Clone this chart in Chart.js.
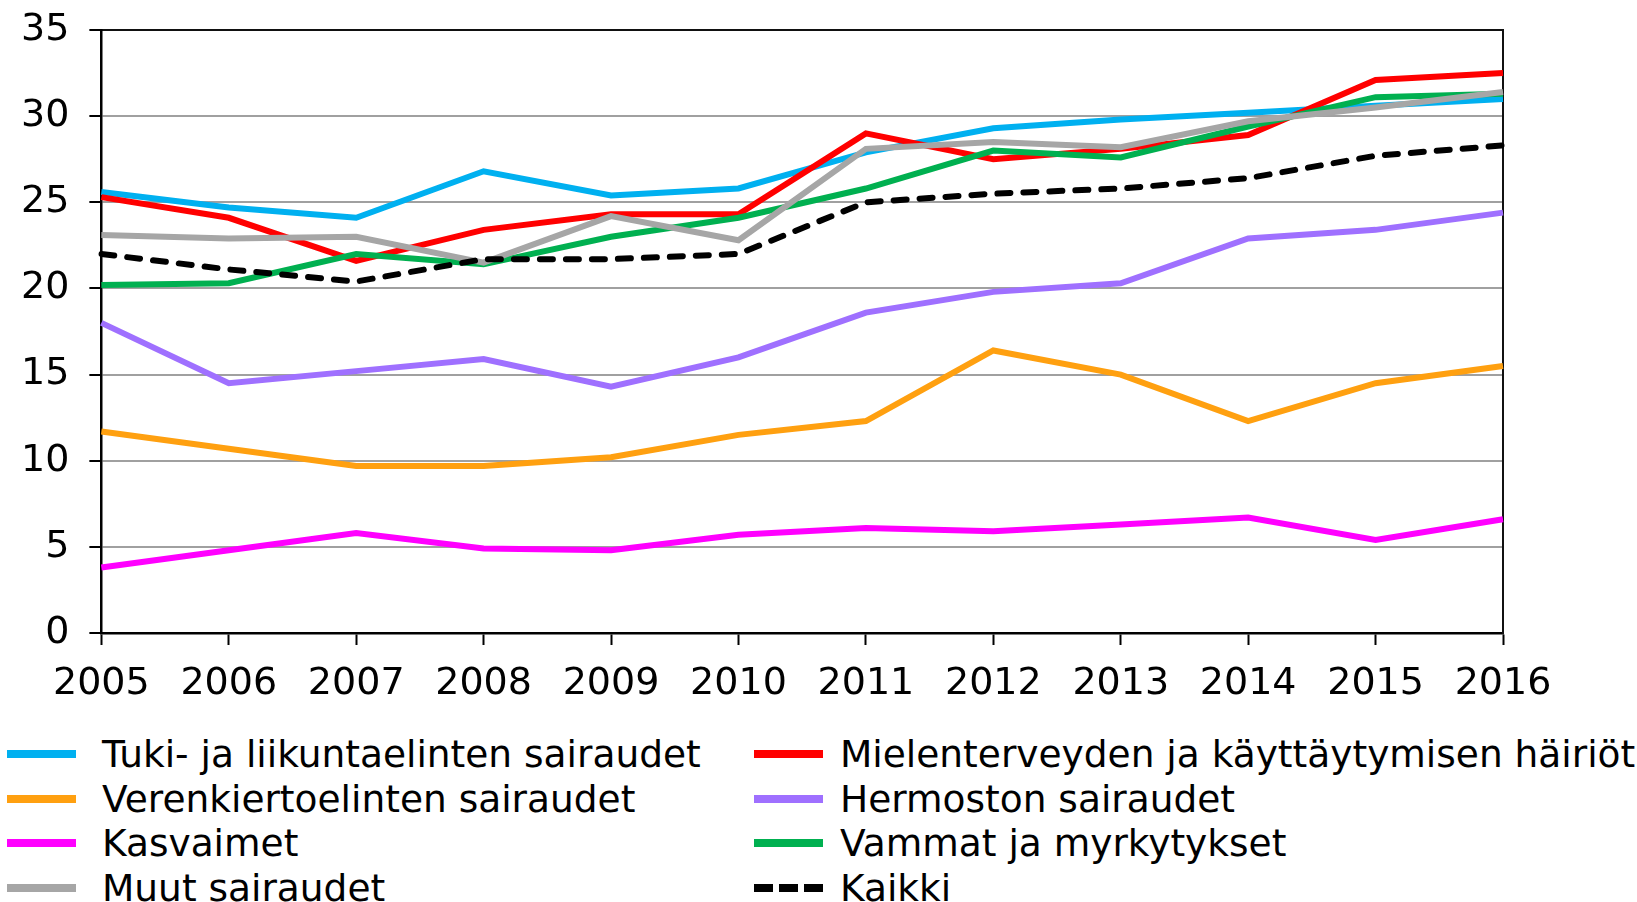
<!DOCTYPE html>
<html lang="fi">
<head>
<meta charset="UTF-8">
<title>Sairauspoissaolot</title>
<script src="https://cdn.jsdelivr.net/npm/chart.js@4.4.0/dist/chart.umd.min.js"></script>
<style>
  html, body { margin: 0; padding: 0; background: #fff; }
  #wrap { position: relative; width: 1637px; height: 902px; overflow: hidden; }
  #box { position: absolute; left: 0; top: 0; width: 1637px; height: 725px; }
  #legend { position: absolute; left: 0; top: 732px; width: 1637px;
    display: grid; grid-template-columns: 747px 890px; grid-auto-rows: 44.5px;
    font-family: "DejaVu Sans", Verdana, sans-serif; font-size: 37.5px; color: #000; }
  .item { display: flex; align-items: center; white-space: nowrap; }
  .item .sw { width: 69px; height: 8px; margin-left: 7px; margin-right: 26px; flex: none; }
  .item:nth-child(even) .sw { margin-left: 7px; margin-right: 17px; }
</style>
</head>
<body>
<div id="wrap">
  <div id="box"><canvas id="myChart"></canvas></div>
  <div id="legend"></div>
</div>
<script>
  // vuodet
  var years = ["2005","2006","2007","2008","2009","2010","2011","2012","2013","2014","2015","2016"];

  var tuki      = [25.6, 24.7, 24.1, 26.8, 25.4, 25.8, 27.9, 29.3, 29.8, 30.2, 30.6, 31.0];
  var mielen    = [25.3, 24.1, 21.6, 23.4, 24.3, 24.3, 29.0, 27.5, 28.1, 28.9, 32.1, 32.5];
  var veren     = [11.7, 10.7, 9.7, 9.7, 10.2, 11.5, 12.3, 16.4, 15.0, 12.3, 14.5, 15.5];
  var hermosto  = [18.0, 14.5, 15.2, 15.9, 14.3, 16.0, 18.6, 19.8, 20.3, 22.9, 23.4, 24.4];
  var kasvaimet = [3.8, 4.8, 5.8, 4.9, 4.8, 5.7, 6.1, 5.9, 6.3, 6.7, 5.4, 6.6];
  var vammat    = [20.2, 20.3, 22.0, 21.4, 23.0, 24.1, 25.8, 28.0, 27.6, 29.4, 31.1, 31.3];
  var muut      = [23.1, 22.9, 23.0, 21.5, 24.2, 22.8, 28.1, 28.5, 28.2, 29.7, 30.5, 31.4];
  var kaikki    = [22.0, 21.1, 20.4, 21.7, 21.7, 22.0, 25.0, 25.5, 25.8, 26.4, 27.7, 28.3];

  var names = ["Tuki- ja liikuntaelinten sairaudet", "Mielenterveyden ja käyttäytymisen häiriöt",
    "Verenkiertoelinten sairaudet", "Hermoston sairaudet", "Kasvaimet",
    "Vammat ja myrkytykset", "Muut sairaudet", "Kaikki"];
  var colors = ["#00B0F0", "#FF0000", "#FFA010", "#9F70FF", "#FF00FF", "#00B050", "#A6A6A6", "#000000"];
  var series = [tuki, mielen, veren, hermosto, kasvaimet, vammat, muut, kaikki];
  var drawOrder = [5, 4, 6, 4, 6, 3, 1, 0];

  var yTicks = [0, 5, 10, 15, 20, 25, 30, 35];

  var datasets = series.map(function (d, i) {
    var ds = {
      label: names[i],
      data: d,
      borderColor: colors[i],
      backgroundColor: colors[i],
      borderWidth: 6,
      pointRadius: 0,
      tension: 0,
      fill: false,
      order: drawOrder[i]
    };
    if (names[i] == "Kaikki") {
      ds.borderDash = [13, 13];
      ds.borderCapStyle = "round";
    }
    return ds;
  });

  var chart = new Chart("myChart", {
    type: "line",
    data: { labels: years, datasets: datasets },
    options: {
      responsive: true,
      maintainAspectRatio: false,
      animation: false,
      layout: { padding: { left: 1, right: 126, top: 22, bottom: 2.4 } },
      plugins: { legend: { display: false }, tooltip: { enabled: false } },
      scales: {
        x: {
          offset: false,
          grid: { display: true, drawOnChartArea: false, drawTicks: true, tickLength: 12,
                  tickColor: "#000", tickWidth: 2 },
          border: { display: true, color: "#000", width: 2.5 },
          ticks: { color: "#000", font: { family: "DejaVu Sans", size: 38 }, padding: 16,
                   maxRotation: 0, autoSkip: false }
        },
        xTop: {
          type: "category", position: "top", labels: years, offset: false,
          grid: { display: false }, ticks: { display: false },
          border: { display: true, color: "#111", width: 2 }
        },
        y: {
          min: 0, max: 35,
          afterBuildTicks: function (axis) { axis.ticks = yTicks.map(function (v) { return { value: v }; }); },
          grid: { color: "#a0a0a0", lineWidth: 2, drawTicks: true, tickLength: 12,
                  tickColor: "#000", tickWidth: 2 },
          border: { display: true, color: "#000", width: 2.5 },
          ticks: { color: "#000", font: { family: "DejaVu Sans", size: 38, lineHeight: 0.1 }, padding: 20 }
        },
        yRight: {
          position: "right", min: 0, max: 35,
          grid: { display: false }, ticks: { display: false },
          border: { display: true, color: "#111", width: 2 }
        }
      }
    }
  });

  // selite kahteen sarakkeeseen
  var legend = document.getElementById("legend");
  chart.data.datasets.forEach(function (ds) {
    var item = document.createElement("div");
    item.className = "item";
    var sw = document.createElement("span");
    sw.className = "sw";
    if (ds.borderDash) {
      sw.style.background = "repeating-linear-gradient(to right, #000 0 19px, transparent 19px 25px)";
    } else {
      sw.style.background = ds.borderColor;
    }
    var txt = document.createElement("span");
    txt.textContent = ds.label;
    item.appendChild(sw);
    item.appendChild(txt);
    legend.appendChild(item);
  });
</script>
</body>
</html>
